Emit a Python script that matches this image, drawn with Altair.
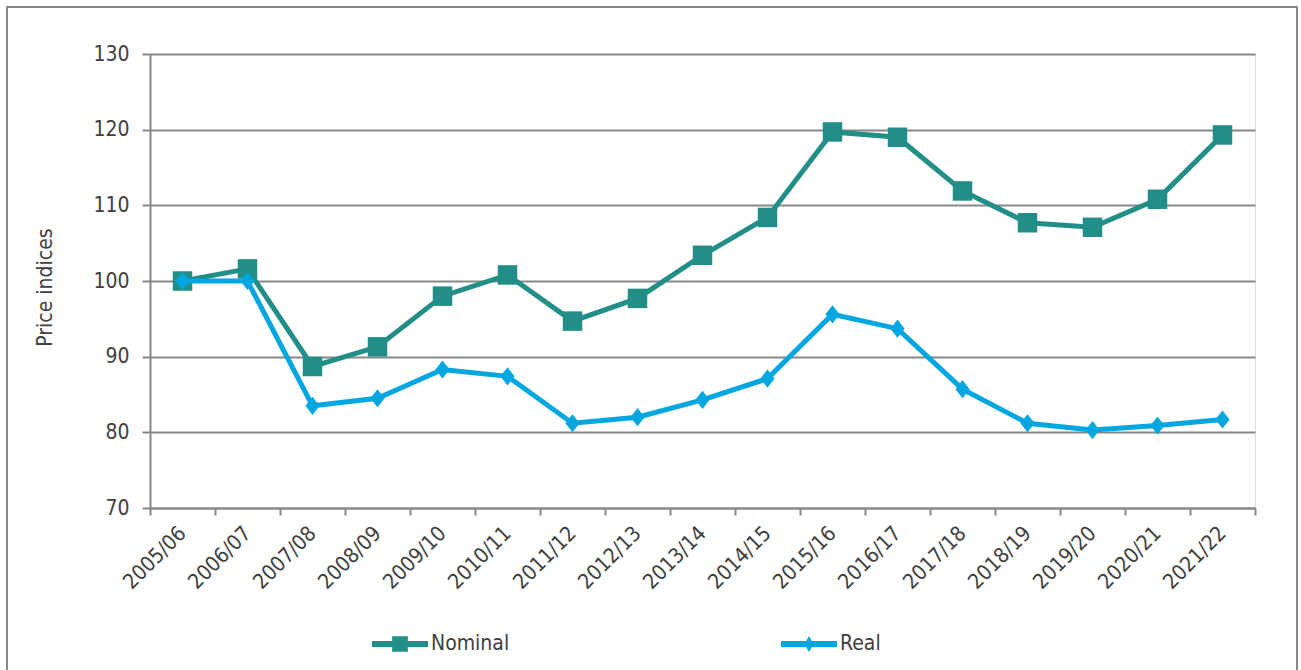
import altair as alt
import pandas as pd

years = ["2005/06", "2006/07", "2007/08", "2008/09", "2009/10", "2010/11",
         "2011/12", "2012/13", "2013/14", "2014/15", "2015/16", "2016/17",
         "2017/18", "2018/19", "2019/20", "2020/21", "2021/22"]
nominal = [100.0, 101.6, 88.7, 91.3, 98.0, 100.8, 94.7, 97.7, 103.4, 108.4,
           119.7, 119.0, 111.9, 107.7, 107.1, 110.8, 119.3]
real = [100.0, 100.0, 83.5, 84.5, 88.3, 87.4, 81.2, 82.0, 84.3, 87.1,
        95.6, 93.7, 85.7, 81.2, 80.3, 80.9, 81.7]
series_names = ["Nominal", "Real"]
series_colors = ["#218f87", "#02a6e0"]
y_ticks = [70, 80, 90, 100, 110, 120, 130]

df = pd.DataFrame({
    "year": years * 2,
    "series": [series_names[0]] * len(years) + [series_names[1]] * len(years),
    "value": nominal + real,
})

FONT = "DejaVu Sans Condensed"
GRAY = "#878787"
TXT = "#404040"

x_enc = alt.X(
    "year:N", sort=years,
    scale=alt.Scale(type="band", paddingInner=0, paddingOuter=0),
    axis=alt.Axis(title=None, tickBand="extent", labelAngle=-45,
                  labelAlign="right", labelBaseline="middle",
                  labelFontSize=21, labelFont=FONT, labelColor=TXT,
                  labelPadding=15, tickSize=7, tickColor=GRAY, tickWidth=2,
                  domainColor=GRAY, domainWidth=2, grid=False),
)
y_enc = alt.Y(
    "value:Q",
    scale=alt.Scale(domain=[70, 130], nice=False, zero=False),
    axis=alt.Axis(values=y_ticks, title="Price indices", titleFont=FONT,
                  titleFontSize=21, titleFontWeight="normal", titleColor=TXT,
                  titleAngle=-90, titleX=-105, titleY=233, titleAlign="center",
                  titleBaseline="middle",
                  labelFontSize=21, labelFont=FONT, labelColor=TXT,
                  labelPadding=13, tickSize=8, tickColor=GRAY, tickWidth=2,
                  domainColor=GRAY, domainWidth=2,
                  grid=True, gridColor=GRAY, gridWidth=2),
)

base = alt.Chart(df).encode(x=x_enc, y=y_enc)

diamond = "M0,-1L0.78,0L0,1L-0.78,0Z"
layers = []
marker_shapes = ["square", diamond]
marker_sizes = [380, 330]
for name, col, shp, sz in zip(series_names, series_colors, marker_shapes, marker_sizes):
    sub = base.transform_filter(alt.datum.series == name)
    layers.append(sub.mark_line(color=col, strokeWidth=5))
    layers.append(sub.mark_point(filled=True, opacity=1, color=col, shape=shp, size=sz))

legend_paths = [
    "M-1,-0.11H1V0.11H-1Z M-0.28,-0.28H0.28V0.28H-0.28Z",
    "M-1,-0.11H1V0.11H-1Z M0,-0.29L0.16,0L0,0.29L-0.16,0Z",
]
leg = alt.Legend(title=None, orient="none", legendX=222, legendY=562,
                 direction="horizontal", symbolSize=3136, symbolStrokeWidth=0,
                 labelFont=FONT, labelFontSize=21, labelColor=TXT,
                 labelOffset=3, columnPadding=271, padding=0)
legend_layer = base.transform_filter("datum.value > 1000").mark_point(
    filled=True, opacity=1).encode(
    color=alt.Color("series:N", scale=alt.Scale(domain=series_names, range=series_colors), legend=leg),
    shape=alt.Shape("series:N", scale=alt.Scale(domain=series_names, range=legend_paths), legend=leg),
)

frame = alt.Chart(pd.DataFrame({"k": [0]})).mark_rect(
    fill=None, stroke=GRAY, strokeWidth=2).encode(
    x=alt.value(-143), x2=alt.value(1147), y=alt.value(-47), y2=alt.value(640))

chart = alt.layer(frame, *layers, legend_layer).properties(
    width=1105, height=454,
    autosize=alt.AutoSizeParams(type="none"),
    padding={"left": 150, "top": 54, "right": 46, "bottom": 162},
).configure_view(stroke=None).configure(background="white")

chart.save("out.html", embed_options={"renderer": "svg", "actions": False})
